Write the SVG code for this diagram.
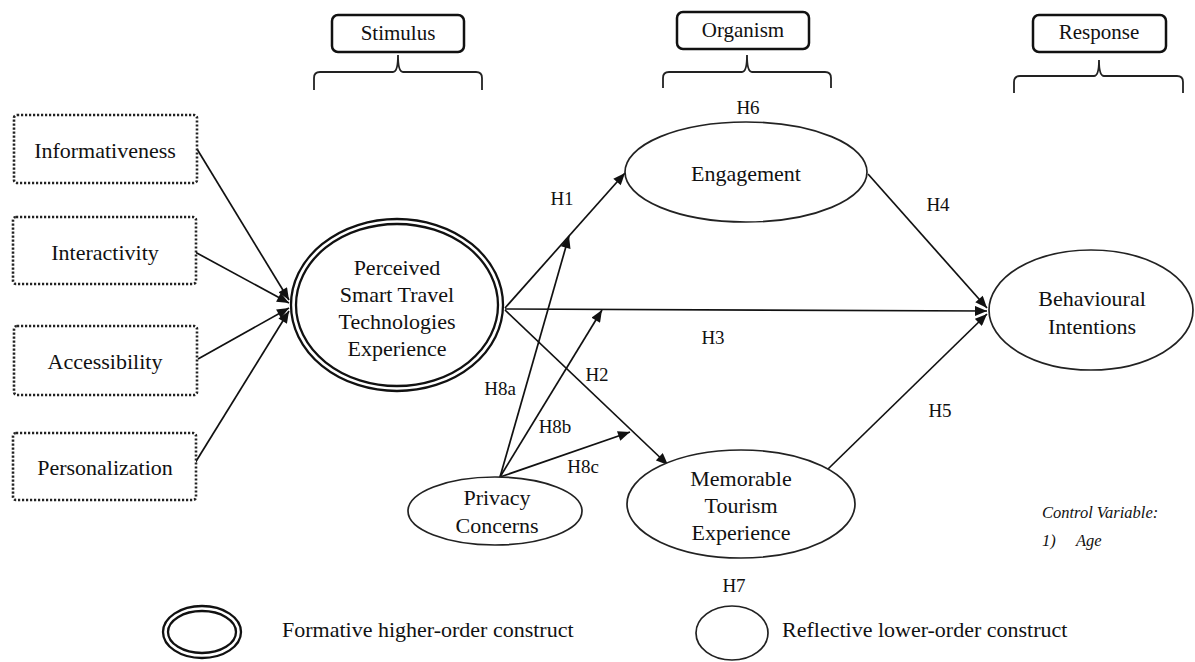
<svg xmlns="http://www.w3.org/2000/svg" width="1195" height="662" viewBox="0 0 1195 662">
<style>
text{font-family:"Liberation Serif","Times New Roman",serif;fill:#111;text-anchor:middle;dominant-baseline:central}
.n{font-size:22px}
.h{font-size:19px}
.hdr{fill:#fff;stroke:#111;stroke-width:2.5}
.brace{fill:none;stroke:#222;stroke-width:1.8}
.dot{fill:#fff;stroke:#222;stroke-width:2.6;stroke-dasharray:2.2 1.8}
.ell{fill:#fff;stroke:#222;stroke-width:1.7}
.dbl{fill:none;stroke:#111;stroke-width:2.3}
.con{fill:none;stroke:#111;stroke-width:1.7}
.it{font-style:italic;font-size:16.5px;text-anchor:start}
.lg{font-size:22px;text-anchor:start}
</style>
<defs>
<marker id="ah" viewBox="0 0 12 10" refX="12" refY="5" markerWidth="13" markerHeight="10" markerUnits="userSpaceOnUse" orient="auto">
<path d="M0,0 L12,5 L0,10 z" fill="#111"/>
</marker>
</defs>
<rect width="1195" height="662" fill="#fff"/>

<g id="hdr-stimulus">
<rect class="hdr" x="332" y="15" width="132" height="37" rx="6"/>
<text class="n" x="398" y="33" style="font-size:21px">Stimulus</text>
<path class="brace" d="M314,90 V78 Q314,72 320,72 H393 Q398,72 398,55 Q398,72 403,72 H476 Q482,72 482,78 V90"/>
</g>
<g id="hdr-organism">
<rect class="hdr" x="677" y="12" width="132" height="37" rx="6"/>
<text class="n" x="743" y="30" style="font-size:21px">Organism</text>
<path class="brace" d="M663,88 V78 Q663,72 669,72 H742 Q747,72 747,55 Q747,72 752,72 H825 Q831,72 831,78 V88"/>
</g>
<g id="hdr-response">
<rect class="hdr" x="1033" y="15" width="133" height="37" rx="6"/>
<text class="n" x="1099" y="32" style="font-size:21px">Response</text>
<path class="brace" d="M1014,93 V82 Q1014,76 1020,76 H1094 Q1099,76 1099,60 Q1099,76 1104,76 H1177 Q1183,76 1183,82 V93"/>
</g>

<g id="connectors">
<line class="con" x1="197" y1="149" x2="289" y2="300" marker-end="url(#ah)"/>
<line class="con" x1="195" y1="252" x2="289" y2="303" marker-end="url(#ah)"/>
<line class="con" x1="198" y1="359" x2="289" y2="308" marker-end="url(#ah)"/>
<line class="con" x1="195" y1="463" x2="289" y2="311" marker-end="url(#ah)"/>
<line class="con" x1="505" y1="308" x2="625" y2="173" marker-end="url(#ah)"/>
<line class="con" x1="505" y1="309" x2="987" y2="311" marker-end="url(#ah)"/>
<line class="con" x1="505" y1="310" x2="668" y2="465" marker-end="url(#ah)"/>
<line class="con" x1="868" y1="174" x2="987" y2="308" marker-end="url(#ah)"/>
<line class="con" x1="828" y1="469" x2="987" y2="314" marker-end="url(#ah)"/>
<line class="con" x1="500" y1="477" x2="569" y2="236" marker-end="url(#ah)"/>
<line class="con" x1="500" y1="477" x2="602" y2="310" marker-end="url(#ah)"/>
<line class="con" x1="500" y1="477" x2="630" y2="432" marker-end="url(#ah)"/>
<text class="h" x="562" y="198">H1</text>
<text class="h" x="597" y="374">H2</text>
<text class="h" x="713" y="337">H3</text>
<text class="h" x="938" y="204">H4</text>
<text class="h" x="940" y="410">H5</text>
<text class="h" x="748" y="107">H6</text>
<text class="h" x="734" y="585">H7</text>
<text class="h" x="500" y="388">H8a</text>
<text class="h" x="555" y="426">H8b</text>
<text class="h" x="583" y="466">H8c</text>
</g>

<g id="n-informativeness">
<rect class="dot" x="14" y="115" width="183" height="68" rx="3"/>
<text class="n" x="105" y="150">Informativeness</text>
</g>
<g id="n-interactivity">
<rect class="dot" x="13" y="217" width="183" height="67" rx="3"/>
<text class="n" x="105" y="252">Interactivity</text>
</g>
<g id="n-accessibility">
<rect class="dot" x="14" y="326" width="183" height="69" rx="3"/>
<text class="n" x="105" y="361">Accessibility</text>
</g>
<g id="n-personalization">
<rect class="dot" x="13" y="433" width="183" height="67" rx="3"/>
<text class="n" x="105" y="467">Personalization</text>
</g>

<g id="n-pstte">
<ellipse cx="397" cy="305" rx="106" ry="86" fill="#fff" class="dbl"/>
<ellipse cx="397" cy="305" rx="101" ry="81" class="dbl"/>
<text class="n" x="397" y="267">Perceived</text>
<text class="n" x="397" y="294">Smart Travel</text>
<text class="n" x="397" y="321">Technologies</text>
<text class="n" x="397" y="348">Experience</text>
</g>

<g id="n-engagement">
<ellipse class="ell" cx="746" cy="172" rx="121" ry="50"/>
<text class="n" x="746" y="173">Engagement</text>
</g>

<g id="n-bi">
<ellipse class="ell" cx="1091" cy="310" rx="102" ry="60"/>
<text class="n" x="1092" y="298">Behavioural</text>
<text class="n" x="1092" y="326">Intentions</text>
</g>

<g id="n-mte">
<ellipse class="ell" cx="741" cy="504" rx="114" ry="54"/>
<text class="n" x="741" y="478">Memorable</text>
<text class="n" x="741" y="505">Tourism</text>
<text class="n" x="741" y="532">Experience</text>
</g>

<g id="n-privacy">
<ellipse class="ell" cx="495" cy="511" rx="87" ry="34"/>
<text class="n" x="497" y="497">Privacy</text>
<text class="n" x="497" y="525">Concerns</text>
</g>

<g id="control">
<text class="it" x="1042" y="512">Control Variable:</text>
<text class="it" x="1042" y="540">1)</text>
<text class="it" x="1076" y="540">Age</text>
</g>

<g id="legend">
<ellipse cx="202" cy="632" rx="39" ry="26" class="dbl" fill="#fff"/>
<ellipse cx="202" cy="632" rx="34" ry="21" class="dbl"/>
<text class="lg" x="282" y="629">Formative higher-order construct</text>
<ellipse class="ell" cx="732" cy="633" rx="36" ry="27"/>
<text class="lg" x="782" y="629">Reflective lower-order construct</text>
</g>
</svg>
